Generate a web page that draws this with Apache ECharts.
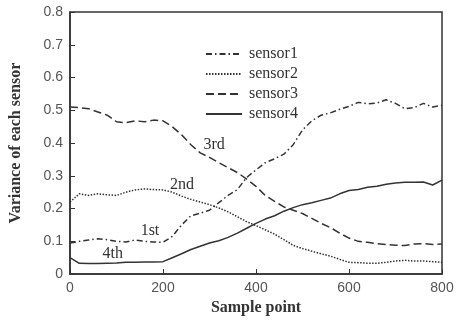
<!DOCTYPE html>
<html>
<head>
<meta charset="utf-8">
<script src="https://cdn.jsdelivr.net/npm/echarts@6/dist/echarts.min.js"></script>
<style>
  html, body { margin: 0; padding: 0; background: #fff; }
  #chart { width: 461px; height: 321px; }
</style>
</head>
<body>
<div id="chart"></div>
<script>
// sample positions (every 20 points)
const samplePoints = [0, 20, 40, 60, 80, 100, 120, 140, 160, 180, 200, 220, 240, 260, 280, 300, 320, 340, 360, 380,
  400, 420, 440, 460, 480, 500, 520, 540, 560, 580, 600, 620, 640, 660, 680, 700, 720, 740, 760, 780, 800]

const sensor1 = [0.095, 0.100, 0.104, 0.108, 0.105, 0.100, 0.098, 0.104, 0.100, 0.098, 0.097, 0.115, 0.150, 0.178, 0.186, 0.195, 0.218, 0.240, 0.258, 0.295,
  0.318, 0.340, 0.352, 0.366, 0.395, 0.440, 0.468, 0.485, 0.492, 0.503, 0.512, 0.524, 0.520, 0.522, 0.532, 0.521, 0.505, 0.508, 0.521, 0.510, 0.515]
const sensor2 = [0.220, 0.245, 0.240, 0.245, 0.242, 0.240, 0.250, 0.257, 0.260, 0.258, 0.257, 0.250, 0.238, 0.228, 0.220, 0.212, 0.202, 0.190, 0.175, 0.160,
  0.148, 0.135, 0.122, 0.105, 0.088, 0.078, 0.070, 0.062, 0.055, 0.045, 0.036, 0.035, 0.033, 0.033, 0.036, 0.040, 0.042, 0.040, 0.040, 0.038, 0.036]
const sensor3 = [0.510, 0.508, 0.505, 0.495, 0.485, 0.465, 0.462, 0.468, 0.465, 0.470, 0.468, 0.450, 0.425, 0.395, 0.370, 0.356, 0.340, 0.325, 0.310, 0.290,
  0.268, 0.240, 0.222, 0.205, 0.195, 0.185, 0.170, 0.155, 0.142, 0.125, 0.110, 0.100, 0.097, 0.093, 0.090, 0.088, 0.087, 0.092, 0.093, 0.090, 0.092]
const sensor4 = [0.050, 0.033, 0.032, 0.032, 0.033, 0.034, 0.036, 0.036, 0.037, 0.037, 0.038, 0.050, 0.062, 0.075, 0.085, 0.095, 0.102, 0.112, 0.125, 0.140,
  0.155, 0.168, 0.178, 0.192, 0.203, 0.212, 0.218, 0.225, 0.232, 0.245, 0.255, 0.258, 0.265, 0.268, 0.274, 0.278, 0.280, 0.280, 0.281, 0.272, 0.287]

const seriesNames = ['sensor1', 'sensor2', 'sensor3', 'sensor4']
const seriesValues = [sensor1, sensor2, sensor3, sensor4]
const dashTypes = [[6, 3, 1.5, 3], [1.5, 1.5], [8, 4], 'solid']

// curve labels: [text, x, y]
const curveLabels = [['1st', 172, 0.132], ['2nd', 241, 0.272], ['3rd', 310, 0.395], ['4th', 92, 0.063]]

const ink = '#333'
const serif = '"Liberation Serif", "DejaVu Serif", serif'
const sans = '"Liberation Sans", Arial, sans-serif'

const chart = echarts.init(document.getElementById('chart'))

const option = {
  animation: false,
  grid: {
    left: 70, right: 19, top: 12, bottom: 42,
    show: true, borderColor: ink, borderWidth: 1.5
  },
  legend: {
    orient: 'vertical',
    left: 200, top: 41,
    itemWidth: 36, itemHeight: 12, itemGap: 4,
    itemStyle: { opacity: 0 },
    formatter: name => '{s|' + name + '}',
    textStyle: {
      color: ink, padding: [0, 0, 0, 2],
      rich: { s: { fontFamily: 'Liberation Serif', fontSize: 16, color: ink } }
    },
    data: seriesNames
  },
  xAxis: {
    type: 'value', min: 0, max: 800, interval: 200,
    name: 'Sample point', nameLocation: 'middle', nameGap: 25,
    nameTextStyle: { fontFamily: serif, fontSize: 16, fontWeight: 'bold', color: ink },
    axisLine: { lineStyle: { color: ink, width: 1.5 } },
    axisTick: { inside: true, length: 5, lineStyle: { color: ink } },
    axisLabel: { fontFamily: sans, fontSize: 14, color: '#555', margin: 7 },
    splitLine: { show: false }
  },
  yAxis: {
    type: 'value', min: 0, max: 0.8, interval: 0.1,
    name: 'Variance of each sensor', nameLocation: 'middle', nameGap: 46,
    nameTextStyle: { fontFamily: serif, fontSize: 16, fontWeight: 'bold', color: ink },
    axisLine: { lineStyle: { color: ink, width: 1.5 } },
    axisTick: { inside: true, length: 5, lineStyle: { color: ink } },
    axisLabel: { fontFamily: sans, fontSize: 14, color: '#555', margin: 7 },
    splitLine: { show: false }
  },
  series: seriesNames.map((name, i) => ({
    name,
    type: 'line',
    symbol: 'none',
    data: samplePoints.map((x, j) => [x, seriesValues[i][j]]),
    lineStyle: { color: ink, width: 1.5, type: dashTypes[i] },
    itemStyle: { color: ink }
  }))
}

chart.setOption(option)

chart.setOption({
  graphic: curveLabels.map(([text, x, y]) => {
    const p = chart.convertToPixel({ gridIndex: 0 }, [x, y])
    return {
      type: 'text', x: p[0], y: p[1],
      style: { text, fontFamily: serif, fontSize: 16, fill: ink, align: 'center', verticalAlign: 'middle' }
    }
  })
})
</script>
</body>
</html>
